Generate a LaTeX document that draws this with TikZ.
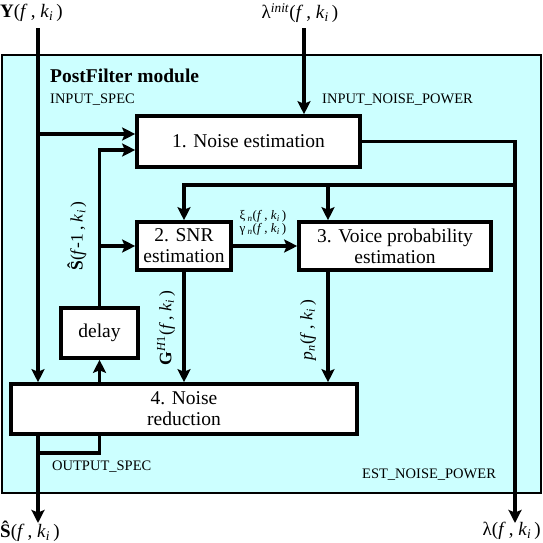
\documentclass[tikz,border=0pt]{standalone}
\usepackage{fontspec}
\setmainfont{Liberation Serif}
\usetikzlibrary{arrows.meta}
\definecolor{modfill}{RGB}{204,255,255}
\newcommand{\fk}{(\textit{f}\,, \textit{k}\textsubscript{\textit{i}}\,)}

\begin{document}
\begin{tikzpicture}
	[x=1pt,y=-1pt,
	module/.style = {
		draw,
		line width = 2.2pt,
		fill = modfill,
		minimum width = 539pt,
		minimum height = 438pt
	},
	box/.style = {
		draw,
		line width = 3.6pt,
		fill = white,
		align = center,
		inner sep = 0pt,
		font = \fontsize{19.5}{21}\selectfont
	},
	wire/.style = {
		line width = 3.1pt,
		-{Stealth[length=13pt,width=13pt,inset=2.5pt]}
	},
	plain/.style = {
		line width = 3.1pt
	},
	lbl/.style = {
		inner sep = 0pt,
		font = \fontsize{19}{21}\selectfont
	},
	rlbl/.style = {
		inner sep = 0pt,
		rotate = 90,
		font = \fontsize{17.5}{19}\selectfont
	},
	tag/.style = {
		anchor = west,
		inner sep = 0pt,
		font = \fontsize{14.5}{16}\selectfont
	},
	small/.style = {
		inner sep = 0pt,
		font = \fontsize{13}{14}\selectfont
	}]
	\useasboundingbox (0,0) rectangle (543,542);
	
	%Draw nodes
	\node[module] at (271.5,274) (pf) {};
	\node[box, minimum width=223pt, minimum height=51pt] at (248.5,141.5) (b1) {1. Noise estimation};
	\node[box, minimum width=94pt, minimum height=48pt] at (184,246) (b2) {2. SNR\\estimation};
	\node[box, minimum width=192pt, minimum height=48pt] at (395,246) (b3) {3. Voice probability\\estimation};
	\node[box, minimum width=77pt, minimum height=50pt] at (99.5,333) (dl) {delay};
	\node[box, minimum width=346pt, minimum height=50pt] at (184,409) (b4) {4. Noise\\reduction};
	
	\coordinate(yin) at (38,28);
	\coordinate(lin) at (304,28);
	\coordinate(yout) at (38,523);
	\coordinate(lout) at (515,523);
	\coordinate(split) at (515,185);
	\coordinate(p3) at (328,246);
	\coordinate(obend) at (0,453);
	\coordinate(y1) at ([yshift=7.5pt]b1.west);
	\coordinate(f1) at ([yshift=-8.5pt]b1.west);
	
	\node[lbl, anchor=west] at (0,13) (ylab) {\textbf{Y}\fk};
	\node[lbl] at (300,13) (llab) {λ\textsuperscript{\textit{init}}\fk};
	\node[lbl, anchor=west, font=\fontsize{19.5}{21}\selectfont\bfseries] at (50,76) (title) {PostFilter module};
	\node[tag] at (50,100) (inspec) {INPUT\_SPEC};
	\node[tag] at (322,100) (innoise) {INPUT\_NOISE\_POWER};
	\node[tag] at (52,467) (outspec) {OUTPUT\_SPEC};
	\node[tag] at (362,475) (estnoise) {EST\_NOISE\_POWER};
	\node[small] at (263,216) (xi) {ξ\,\textsubscript{\textit{n}}\fk};
	\node[small] at (263,229) (gam) {γ\,\textsubscript{\textit{n}}\fk};
	\node[rlbl] at (77,236) (shat1) {\textbf{Ŝ}(\textit{f}-1\,, \textit{k}\textsubscript{\textit{i}}\,)};
	\node[rlbl] at (166,328) (gain) {\textbf{G}\textsuperscript{\textit{H}1}\fk};
	\node[rlbl] at (308,330) (pn) {\textit{p}\textsubscript{\textit{n}}\fk};
	\node[lbl, anchor=west] at (0,531) (shat) {\textbf{Ŝ}\fk};
	\node[lbl, anchor=east] at (541,531) (lam) {λ\fk};
	
	%Draw wires
	\draw[wire] (yin) -- (yin |- b4.north);
	\draw[wire] (yin |- y1) -- (y1);
	\draw[wire] (lin) -- (lin |- b1.north);
	
	\draw[wire] (dl.north) |- (f1);
	\draw[wire] (dl.north |- b2.west) -- (b2.west);
	
	\draw[wire] (b1.east) -| (lout);
	\draw[wire] (split) -| (b2.north);
	\draw[wire] (p3 |- split) -- (p3 |- b3.north);
	
	\draw[wire] (b2.east) -- (b3.west);
	\draw[wire] (b2.south) -- (b2.south |- b4.north);
	\draw[wire] (p3 |- b3.south) -- (p3 |- b4.north);
	
	\draw[wire] (dl.south |- b4.north) -- (dl.south);
	\draw[wire] (yin |- b4.south) -- (yout);
	\draw[plain] (dl.south |- b4.south) |- (yin |- obend);
	
\end{tikzpicture}
\end{document}
